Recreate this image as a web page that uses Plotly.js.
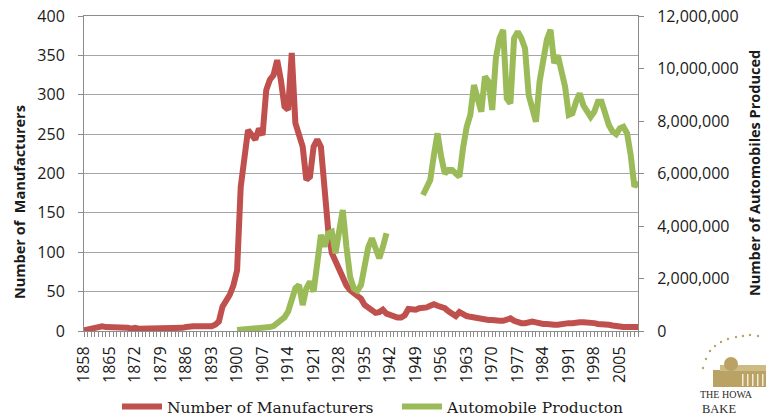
<!DOCTYPE html>
<html>
<head>
<meta charset="utf-8">
<script src="https://cdn.plot.ly/plotly-3.0.1.min.js"></script>
<style>
  html, body { margin: 0; padding: 0; background: #ffffff; }
  #chart { width: 766px; height: 417px; }
</style>
</head>
<body>
<div id="chart"></div>
<script>
// ---- data ----
const firstYear = 1858;
const lastYear = 2010;
const years = [];
for (let y = firstYear; y <= lastYear; y++) years.push(y);

const tickYears = [1858, 1865, 1872, 1879, 1886, 1893, 1900, 1907, 1914, 1921, 1928, 1935, 1942, 1949, 1956, 1963, 1970, 1977, 1984, 1991, 1998, 2005];

// Number of manufacturers, 1858-2010
const manufacturers = [
  1, 2, 3, 4, 5, 6, 5, 5, 5, 5,              // 1858-1867
  5, 4, 4, 3, 4, 3, 3, 3, 3, 4,              // 1868-1877
  3, 3, 3, 3, 3, 3, 3, 4, 5, 6,              // 1878-1887
  6, 6, 6, 6, 6, 6, 8, 12, 31, 37,           // 1888-1897
  46, 58, 77, 183, 217, 255, 249, 243, 257, 249,      // 1898-1907
  306, 319, 325, 344, 319, 285, 281, 353, 264, 247,   // 1908-1917
  234, 192, 196, 234, 243, 234, 179, 128, 99, 88,     // 1918-1927
  77, 69, 58, 52, 48, 43, 41, 33, 29, 25,    // 1928-1937
  23, 24, 27, 22, 20, 18, 17, 17, 20, 28,    // 1938-1947
  27, 27, 29, 29, 30, 32, 34, 32, 31, 29,    // 1948-1957
  25, 22, 19, 24, 21, 19, 18, 17, 16, 16,    // 1958-1967
  15, 14, 14, 13, 13, 13, 15, 16, 13, 11,    // 1968-1977
  10, 10, 11, 12, 11, 9, 9, 9, 8, 8,         // 1978-1987
  8, 9, 9, 10, 10, 11, 11, 11, 11, 10,       // 1988-1997
  10, 9, 9, 9, 8, 7, 6, 6, 5, 5,             // 1998-2007
  5, 5, 5                                    // 2008-2010
];

// Automobile production, 1858-2010 (null = no data)
const production = [
  null, null, null, null, null, null, null, null, null, null,   // 1858-1867
  null, null, null, null, null, null, null, null, null, null,   // 1868-1877
  null, null, null, null, null, null, null, null, null, null,   // 1878-1887
  null, null, null, null, null, null, null, null, null, null,   // 1888-1897
  null, null,                                                   // 1898-1899
  40000, 50000, 50000, 60000, 70000, 80000, 90000, 100000, 120000, 150000,          // 1900-1909
  190000, 290000, 350000, 520000, 740000, 1180000, 1630000, 1750000, 990000, 1630000, // 1910-1919
  1880000, 1500000, 2450000, 3660000, 3210000, 3720000, 3780000, 2960000, 3800000, 4610000, // 1920-1929
  3210000, 2070000, 1630000, 1540000, 1750000, 2580000, 3200000, 3530000, 3140000, 2770000, // 1930-1939
  3200000, 3720000,                                             // 1940-1941
  null, null, null, null, null, null, null, null, null,         // 1942-1950
  5180000, 5500000, 5750000, 6700000, 7530000, 6640000, 6000000, 6130000, 6130000, 6000000, // 1951-1960
  5880000, 6970000, 7780000, 8230000, 9370000, 8860000, 8350000, 9690000, 9500000, 8420000, // 1961-1970
  10390000, 11150000, 11470000, 8860000, 8670000, 11150000, 11400000, 11150000, 10770000, 8990000, // 1971-1980
  8420000, 7970000, 9500000, 10500000, 11100000, 11470000, 10200000, 10500000, 9900000, 9300000, // 1981-1990
  8230000, 8290000, 8730000, 9050000, 8600000, 8350000, 8160000, 8350000, 8730000, 8730000, // 1991-2000
  8290000, 7850000, 7600000, 7500000, 7720000, 7780000, 7530000, 6700000, 5500000, 5690000  // 2001-2010
];

const seriesNames = ["Number of Manufacturers", "Automobile Producton"];
const leftTitle = "Number of  Manufacturers";
const rightTitle = "Number of Automobiles Produced";
const logoLines = ["THE HOWA", "BAKE"];

// ---- helpers for pixel placement of decorations ----
const plotL = 84, plotR = 638, plotT = 16, plotB = 331;
const px = x => (x - plotL) / (plotR - plotL);
const py = y => (plotB - y) / (plotB - plotT);

const RED = "#C0504D";
const GREEN = "#9BBB59";
const GOLD = "#B9A263";
const tickFont = {family: "Open Sans, sans-serif", size: 16, color: "#1a1a1a"};
const legendFont = {family: "DejaVu Serif, serif", size: 15.5, color: "#1a1a1a"};

const traces = [
  {
    x: years, y: manufacturers, name: seriesNames[0], type: "scatter", mode: "lines",
    line: {color: RED, width: 6}, yaxis: "y", legend: "legend", hoverinfo: "skip"
  },
  {
    x: years, y: production, name: seriesNames[1], type: "scatter", mode: "lines",
    line: {color: GREEN, width: 6}, yaxis: "y2", legend: "legend2", connectgaps: false, hoverinfo: "skip"
  }
];

// logo dots
const dotPts = [[703,368],[706,359],[710,351],[715,346],[721,342],[728,339],[736,337],[743,336],[750,335],[758,336]];
const shapes = dotPts.map(p => ({
  type: "circle", xref: "paper", yref: "paper", layer: "above",
  x0: px(p[0] - 1.2), x1: px(p[0] + 1.2), y0: py(p[1] + 1.2), y1: py(p[1] - 1.2),
  fillcolor: GOLD, line: {width: 0}
}));
// logo building
shapes.push({type: "rect", xref: "paper", yref: "paper", x0: px(713), x1: px(768), y0: py(387), y1: py(370), fillcolor: GOLD, line: {width: 0}});
shapes.push({type: "rect", xref: "paper", yref: "paper", x0: px(720), x1: px(768), y0: py(371), y1: py(365), fillcolor: "#CDBB85", line: {width: 0}});
shapes.push({type: "circle", xref: "paper", yref: "paper", x0: px(724), x1: px(738), y0: py(371), y1: py(357), fillcolor: GOLD, line: {width: 0}});
[742, 747, 752, 757, 762].forEach(c => shapes.push({
  type: "rect", xref: "paper", yref: "paper", x0: px(c), x1: px(c + 1.5), y0: py(386), y1: py(374), fillcolor: "#F3EBD5", line: {width: 0}
}));

const legendBase = {
  orientation: "h", xanchor: "left", yanchor: "middle", y: py(407),
  font: legendFont, itemwidth: 40, bgcolor: "rgba(0,0,0,0)", borderwidth: 0
};

const layout = {
  width: 766, height: 417,
  margin: {l: plotL, r: 766 - plotR, t: plotT, b: 417 - plotB, pad: 0, autoexpand: false},
  paper_bgcolor: "#ffffff", plot_bgcolor: "#ffffff",
  showlegend: true,
  legend: Object.assign({}, legendBase, {x: px(117)}),
  legend2: Object.assign({}, legendBase, {x: px(397)}),
  xaxis: {
    type: "linear", range: [firstYear, lastYear], fixedrange: true,
    tickmode: "array", tickvals: tickYears, ticktext: tickYears.map(String),
    tickangle: -90, tickfont: tickFont, ticks: "outside", ticklen: 5, tickcolor: "#8c8c8c", tickwidth: 1,
    ticklabelstandoff: 3,
    minor: {tickmode: "linear", tick0: firstYear, dtick: 1, ticks: "outside", ticklen: 5, tickcolor: "#8c8c8c", tickwidth: 1, showgrid: false},
    showline: true, linecolor: "#8c8c8c", linewidth: 1, mirror: true,
    showgrid: false, zeroline: false, automargin: false
  },
  yaxis: {
    range: [0, 400], dtick: 50, tick0: 0, fixedrange: true,
    tickfont: tickFont, ticks: "outside", ticklen: 5, tickcolor: "#8c8c8c",
    ticklabelstandoff: 10,
    showline: true, linecolor: "#8c8c8c", linewidth: 1,
    showgrid: true, gridcolor: "#a6a6a6", gridwidth: 1, zeroline: false, automargin: false
  },
  yaxis2: {
    overlaying: "y", side: "right", range: [0, 12000000], dtick: 2000000, tick0: 0, fixedrange: true,
    tickformat: ",d", tickfont: tickFont, ticks: "outside", ticklen: 5, tickcolor: "#8c8c8c",
    ticklabelstandoff: 10,
    showline: true, linecolor: "#8c8c8c", linewidth: 1,
    showgrid: false, zeroline: false, automargin: false
  },
  annotations: [
    {text: "<b>" + leftTitle + "</b>", xref: "paper", yref: "paper", x: px(19), y: py(202),
     xanchor: "center", yanchor: "middle", textangle: -90, showarrow: false,
     font: {family: "Open Sans, sans-serif", size: 14.5, color: "#1a1a1a"}},
    {text: "<b>" + rightTitle + "</b>", xref: "paper", yref: "paper", x: px(754), y: py(173),
     xanchor: "center", yanchor: "middle", textangle: -90, showarrow: false,
     font: {family: "Open Sans, sans-serif", size: 14.5, color: "#1a1a1a"}},
    {text: logoLines[0], xref: "paper", yref: "paper", x: px(699), y: py(394),
     xanchor: "left", yanchor: "middle", showarrow: false, borderpad: 0,
     font: {family: "Liberation Serif, serif", size: 10, color: "#2a2a2a"}},
    {text: logoLines[1], xref: "paper", yref: "paper", x: px(701), y: py(408.5),
     xanchor: "left", yanchor: "middle", showarrow: false, borderpad: 0,
     font: {family: "Liberation Serif, serif", size: 12.5, color: "#2a2a2a"}}
  ],
  shapes: shapes
};

Plotly.newPlot("chart", traces, layout, {displayModeBar: false, staticPlot: true});
</script>
</body>
</html>
